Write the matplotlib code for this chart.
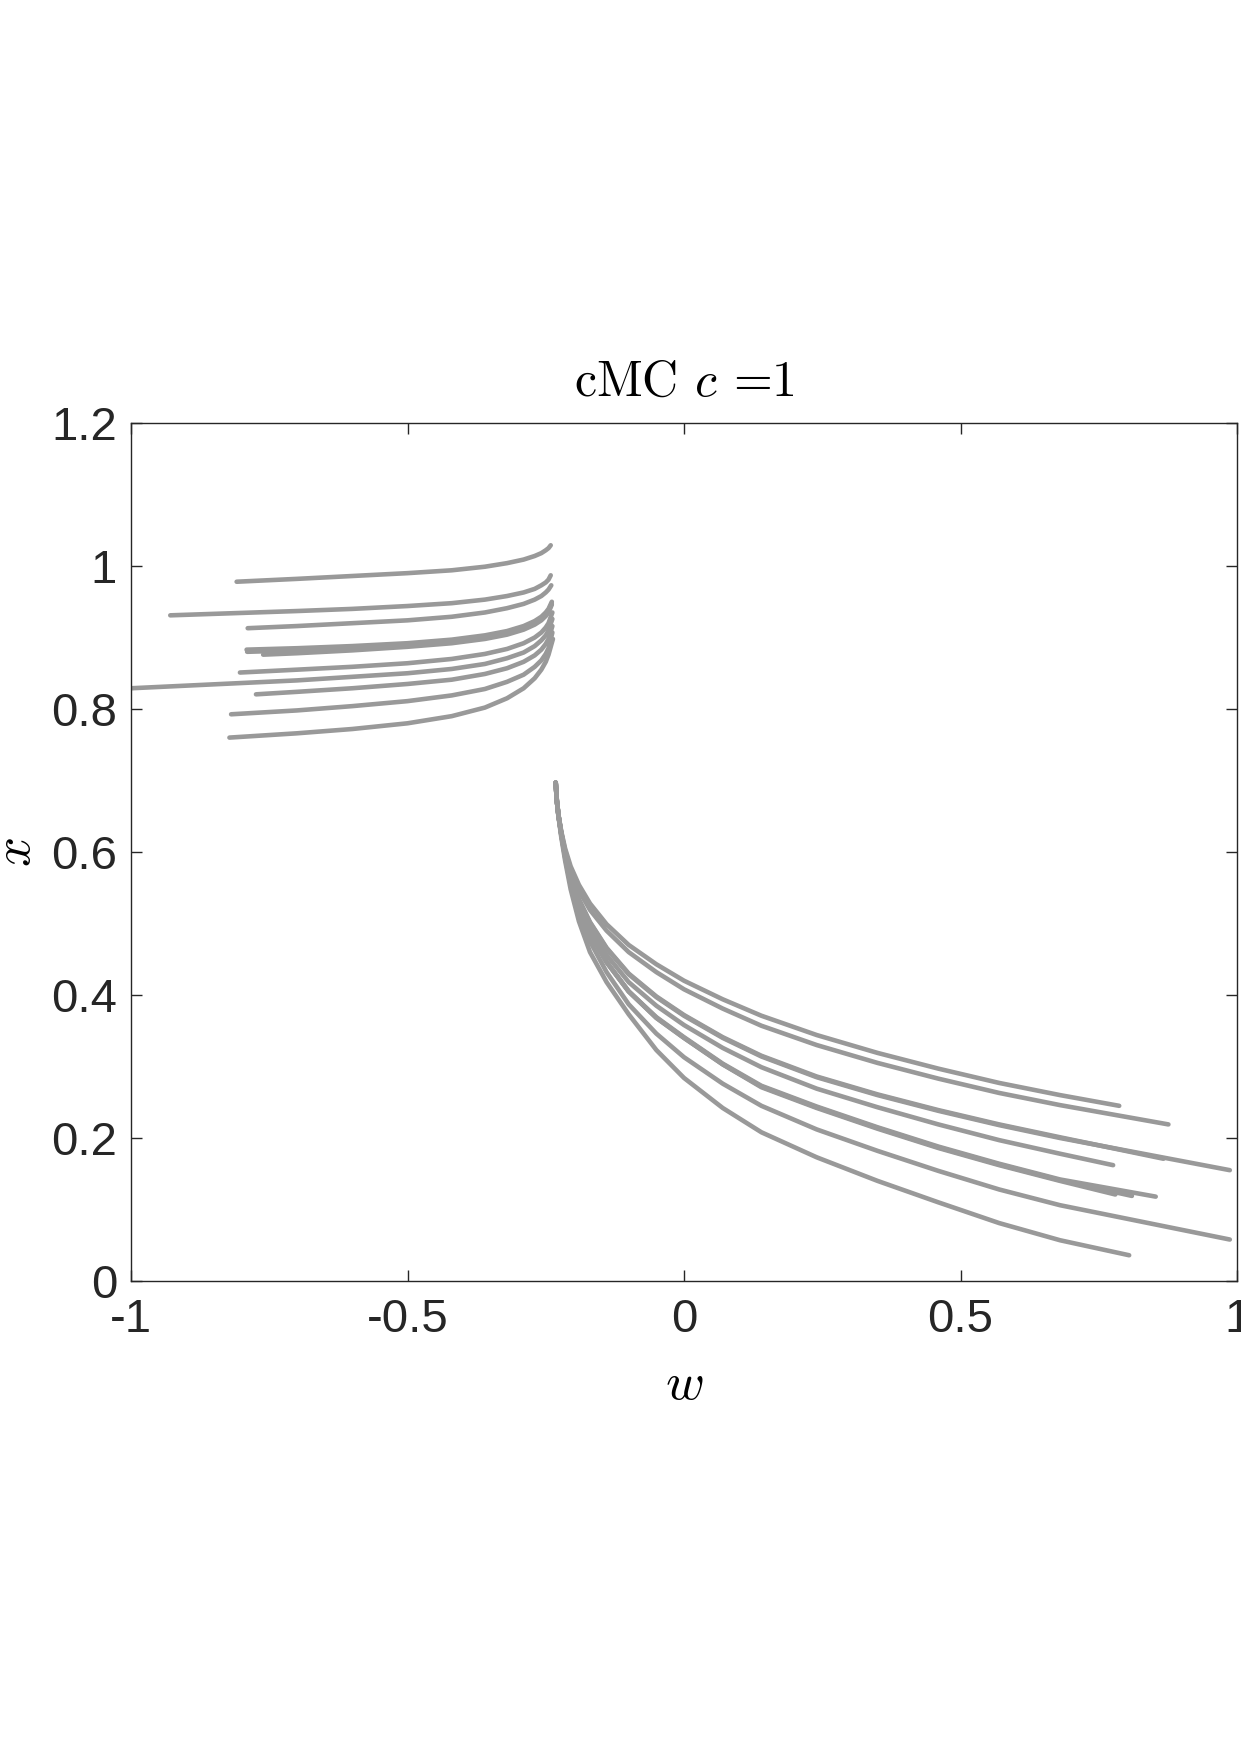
import numpy as np
import matplotlib
matplotlib.use('Agg')
import matplotlib.pyplot as plt

# tick marks and labels
x_ticks = [-1, -0.5, 0, 0.5, 1]
x_tick_labels = ['-1', '-0.5', '0', '0.5', '1']
y_ticks = [0, 0.2, 0.4, 0.6, 0.8, 1.0, 1.2]
y_tick_labels = ['0', '0.2', '0.4', '0.6', '0.8', '1', '1.2']

# upper branch
upper_start_w = [-0.809, -0.929, -0.789, -0.791, -0.761, -0.790, -0.803, -1.0, -0.774, -0.819, -0.822]
upper_start_x = [0.978, 0.931, 0.913, 0.883, 0.876, 0.880, 0.851, 0.829, 0.8205, 0.7926, 0.760]
upper_w_grid = [-0.7, -0.6, -0.5, -0.42, -0.36, -0.32, -0.29, -0.27, -0.258, -0.25, -0.245]
upper_x = [
    [0.982, 0.986, 0.990, 0.994, 0.999, 1.004, 1.009, 1.014, 1.018, 1.022, 1.025],
    [0.937, 0.940, 0.944, 0.948, 0.953, 0.958, 0.963, 0.968, 0.973, 0.977, 0.981],
    [0.916, 0.920, 0.924, 0.929, 0.935, 0.941, 0.947, 0.953, 0.958, 0.963, 0.967],
    [0.885, 0.888, 0.892, 0.897, 0.903, 0.909, 0.916, 0.923, 0.929, 0.935, 0.940],
    [0.878, 0.882, 0.887, 0.892, 0.898, 0.904, 0.911, 0.918, 0.924, 0.930, 0.935],
    [0.882, 0.885, 0.889, 0.894, 0.900, 0.906, 0.913, 0.920, 0.926, 0.932, 0.937],
    [0.855, 0.859, 0.864, 0.870, 0.877, 0.884, 0.892, 0.900, 0.907, 0.914, 0.920],
    [0.840, 0.845, 0.850, 0.856, 0.863, 0.871, 0.879, 0.888, 0.896, 0.903, 0.910],
    [0.824, 0.829, 0.835, 0.841, 0.849, 0.857, 0.866, 0.875, 0.883, 0.891, 0.898],
    [0.798, 0.804, 0.811, 0.819, 0.828, 0.838, 0.848, 0.859, 0.868, 0.877, 0.885],
    [0.766, 0.772, 0.780, 0.790, 0.802, 0.815, 0.829, 0.843, 0.855, 0.866, 0.876],
]
upper_end_w = [-0.241, -0.241, -0.240, -0.239, -0.239, -0.239, -0.238, -0.238, -0.238, -0.238, -0.237]
upper_end_x = [1.029, 0.987, 0.973, 0.950, 0.946, 0.948, 0.935, 0.926, 0.916, 0.907, 0.898]

# lower branch
lower_w_grid = [-0.232, -0.230, -0.227, -0.222, -0.215, -0.205, -0.19, -0.17, -0.14, -0.10,
                -0.05, 0.0, 0.07, 0.14, 0.24, 0.35, 0.46, 0.57, 0.68]
lower_x = [
    [0.697, 0.672, 0.652, 0.629, 0.605, 0.580, 0.554, 0.528, 0.499, 0.470, 0.443, 0.420, 0.394, 0.371, 0.344, 0.319, 0.297, 0.277, 0.260],
    [0.697, 0.672, 0.651, 0.628, 0.602, 0.575, 0.546, 0.519, 0.490, 0.460, 0.432, 0.408, 0.381, 0.357, 0.330, 0.305, 0.283, 0.263, 0.246],
    [0.697, 0.672, 0.651, 0.627, 0.598, 0.566, 0.534, 0.502, 0.466, 0.430, 0.398, 0.372, 0.341, 0.315, 0.286, 0.261, 0.239, 0.219, 0.201],
    [0.697, 0.672, 0.651, 0.627, 0.598, 0.565, 0.533, 0.501, 0.465, 0.429, 0.397, 0.371, 0.340, 0.314, 0.285, 0.260, 0.238, 0.218, 0.200],
    [0.697, 0.672, 0.651, 0.626, 0.596, 0.562, 0.528, 0.494, 0.456, 0.418, 0.385, 0.358, 0.326, 0.299, 0.269, 0.243, 0.219, 0.197, 0.178],
    [0.697, 0.672, 0.651, 0.625, 0.594, 0.558, 0.522, 0.486, 0.446, 0.405, 0.368, 0.340, 0.303, 0.271, 0.242, 0.213, 0.186, 0.162, 0.140],
    [0.697, 0.672, 0.651, 0.625, 0.594, 0.558, 0.522, 0.486, 0.446, 0.405, 0.368, 0.340, 0.303, 0.272, 0.243, 0.214, 0.187, 0.163, 0.141],
    [0.697, 0.672, 0.651, 0.625, 0.594, 0.558, 0.522, 0.486, 0.446, 0.405, 0.369, 0.341, 0.304, 0.273, 0.244, 0.215, 0.188, 0.164, 0.142],
    [0.697, 0.672, 0.651, 0.624, 0.592, 0.554, 0.514, 0.475, 0.432, 0.387, 0.346, 0.313, 0.276, 0.245, 0.212, 0.182, 0.154, 0.128, 0.106],
    [0.697, 0.672, 0.650, 0.621, 0.588, 0.548, 0.503, 0.460, 0.418, 0.373, 0.323, 0.284, 0.242, 0.208, 0.173, 0.140, 0.110, 0.081, 0.057],
]
lower_end_w = [0.787, 0.876, 0.867, 0.987, 0.776, 0.78, 0.81, 0.853, 0.987, 0.805]
lower_end_x = [0.245, 0.219, 0.171, 0.155, 0.162, 0.121, 0.119, 0.118, 0.058, 0.036]

plt.rcParams['font.family'] = ['Liberation Sans', 'DejaVu Sans']
plt.rcParams['mathtext.fontset'] = 'cm'
plt.rcParams['axes.unicode_minus'] = False

fig = plt.figure(figsize=(12.41, 17.54), dpi=100)
ax = fig.add_axes([131 / 1241, 1 - 1281 / 1754, 1106 / 1241, 858 / 1754])

line_kw = dict(color='#999999', lw=3.3, solid_capstyle='round', solid_joinstyle='round')

for i in range(len(upper_x)):
    w = [upper_start_w[i]] + upper_w_grid + [upper_end_w[i]]
    x = [upper_start_x[i]] + upper_x[i] + [upper_end_x[i]]
    ax.plot(w, x, **line_kw)

for i in range(len(lower_x)):
    w = lower_w_grid + [lower_end_w[i]]
    x = lower_x[i] + [lower_end_x[i]]
    ax.plot(w, x, **line_kw)

ax.set_xlim(-1, 1)
ax.set_ylim(0, 1.2)
ax.set_xticks(x_ticks)
ax.set_xticklabels(x_tick_labels)
ax.set_yticks(y_ticks)
ax.set_yticklabels(y_tick_labels)
ax.tick_params(direction='in', length=8, width=1, top=True, right=True,
               labelsize=34, color='#262626', labelcolor='#262626')
ax.tick_params(axis='x', pad=12)
ax.tick_params(axis='y', pad=10)
for s in ax.spines.values():
    s.set_linewidth(1.0)
    s.set_color('#262626')

ax.set_title(r'cMC $c$ =1', fontsize=36, family='cmr10', pad=20)
ax.set_xlabel(r'$w$', fontsize=38)
ax.set_ylabel(r'$x$', fontsize=38)
ax.xaxis.set_label_coords(0.5, -0.092)
ax.yaxis.set_label_coords(-0.081, 0.5)

fig.savefig('out.png', dpi=100)
